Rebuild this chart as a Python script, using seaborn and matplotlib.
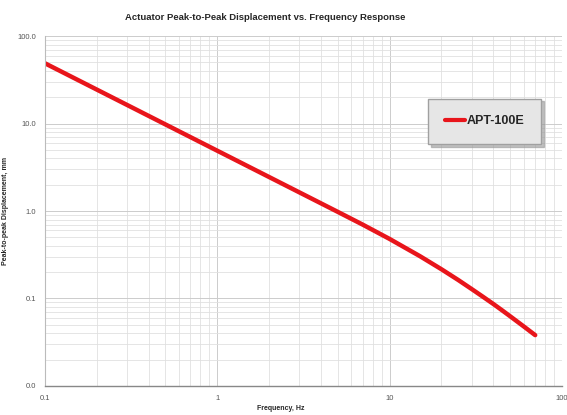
import numpy as np
import pandas as pd
import matplotlib
matplotlib.use('Agg')
import matplotlib.pyplot as plt
import seaborn as sns
from matplotlib.ticker import FixedLocator, LogLocator, NullFormatter

# data
freq_hz = [0.1, 0.2, 0.5, 1, 2, 5, 7, 10, 15, 20, 25, 30, 35, 40, 45, 50, 60, 70]
disp_mm = [49, 24.5, 9.8, 4.9, 2.45, 0.98, 0.698, 0.48, 0.305, 0.216, 0.163, 0.128,
           0.104, 0.0866, 0.0732, 0.0628, 0.048, 0.0381]
series_name = 'APT-100E'

xticks = [0.1, 1, 10, 100]
xticklabels = ['0.1', '1', '10', '100']
yticks = [0.01, 0.1, 1, 10, 100]
yticklabels = ['0.0', '0.1', '1.0', '10.0', '100.0']

df = pd.DataFrame({'freq': freq_hz, 'disp': disp_mm, 'series': series_name})

sns.set_style('white')
plt.rcParams['font.family'] = ['Liberation Sans', 'DejaVu Sans']

fig = plt.figure(figsize=(5.67, 4.15), dpi=100)
ax = fig.add_axes([0.079, 0.07, 0.912, 0.843])

sns.lineplot(data=df, x='freq', y='disp', color='#e8151b', linewidth=3.2,
             ax=ax, label=series_name, legend=False)

ax.set_xscale('log')
ax.set_yscale('log')
ax.set_xlim(0.1, 100)
ax.set_ylim(0.01, 100)

ax.xaxis.set_major_locator(FixedLocator(xticks))
ax.set_xticklabels(xticklabels)
ax.yaxis.set_major_locator(FixedLocator(yticks))
ax.set_yticklabels(yticklabels)
ax.xaxis.set_minor_locator(LogLocator(base=10, subs=np.arange(2, 10)))
ax.yaxis.set_minor_locator(LogLocator(base=10, subs=np.arange(2, 10)))
ax.xaxis.set_minor_formatter(NullFormatter())
ax.yaxis.set_minor_formatter(NullFormatter())

ax.grid(which='major', color='#cccccc', linewidth=0.7)
ax.grid(which='minor', color='#e0e0e0', linewidth=0.6)
ax.set_axisbelow(True)

ax.tick_params(axis='both', which='major', labelsize=5.5, colors='#555555',
               length=3, width=0.6, direction='out')
ax.tick_params(axis='both', which='minor', length=0)
for side in ['top', 'right']:
    ax.spines[side].set_visible(False)
ax.spines['bottom'].set_color('#888888')
ax.spines['left'].set_color('#bbbbbb')
ax.spines['bottom'].set_linewidth(1.0)
ax.spines['left'].set_linewidth(0.8)

fig.text(265 / 567, 1 - 18 / 415,
         'Actuator Peak-to-Peak Displacement vs. Frequency Response',
         fontsize=6.8, fontweight='bold', ha='center', va='center')
ax.set_xlabel('Frequency, Hz', fontsize=5, fontweight='bold', labelpad=5)
ax.xaxis.set_label_coords((281 - 45) / 517, -0.055)
ax.set_ylabel('Peak-to-peak Displacement, mm', fontsize=5, fontweight='bold', labelpad=6)

leg = ax.legend(loc='center', bbox_to_anchor=(0.851, 0.756),
                prop={'weight': 'bold', 'size': 9}, frameon=True, fancybox=False,
                shadow={'color': '#999999', 'alpha': 0.6}, handlelength=1.6,
                handletextpad=0.1, borderpad=1.35, facecolor='#e6e6e6',
                edgecolor='#a0a0a0', framealpha=1)
for line in leg.get_lines():
    line.set_linewidth(3)

fig.savefig('out.png', dpi=100)
